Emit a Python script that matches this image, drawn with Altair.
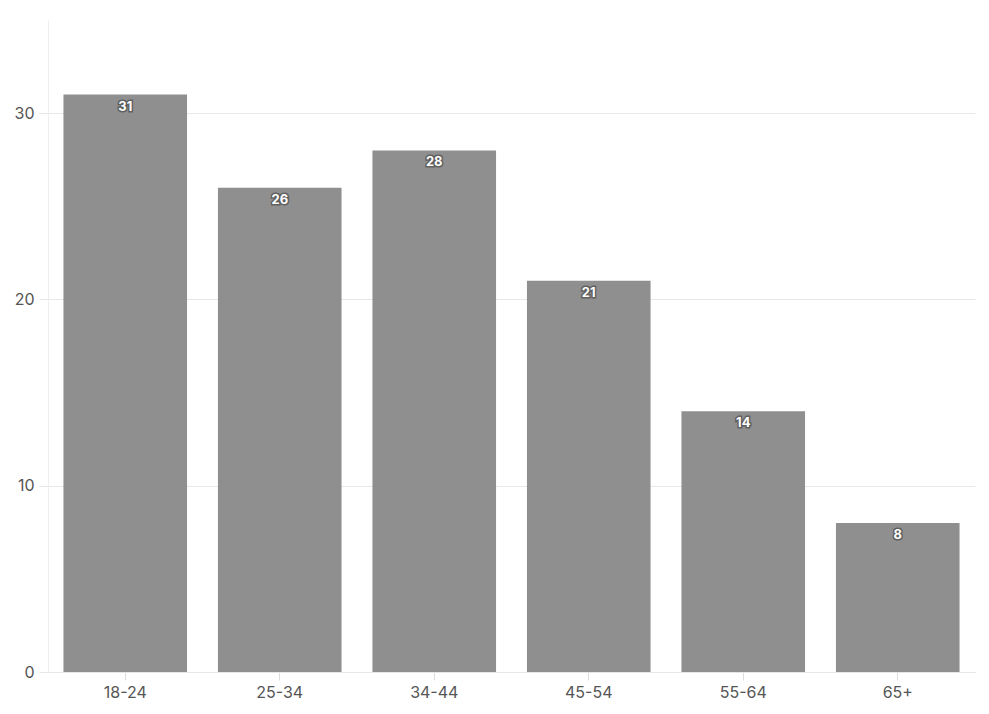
import altair as alt
import pandas as pd

categories = ["18-24", "25-34", "34-44", "45-54", "55-64", "65+"]
values = [31, 26, 28, 21, 14, 8]

df = pd.DataFrame({"age": categories, "value": values})

x = alt.X("age:N", sort=categories, title=None,
          scale=alt.Scale(paddingInner=0.2, paddingOuter=0.1),
          axis=alt.Axis(labelAngle=0, labelFontSize=16, labelColor="#555555",
                        labelFont="Inter", tickColor="#dddddd", tickSize=8,
                        domainColor="#e6e6e6", labelPadding=4, grid=False))
y = alt.Y("value:Q", title=None,
          scale=alt.Scale(domain=[0, 35], nice=False),
          axis=alt.Axis(values=[0, 10, 20, 30], labelFontSize=16, labelColor="#555555",
                        labelFont="Inter", tickColor="#e6e6e6", tickSize=9,
                        domainColor="#eeeeee", gridColor="#e8e8e8", labelPadding=5))

base = alt.Chart(df).encode(x=x, y=y)

bars = base.mark_bar(color="#8f8f8f")

halo = base.mark_text(font="Inter", fontSize=13, fontWeight="bold", baseline="middle",
                      dy=12, color="#555555", stroke="#555555", strokeWidth=3,
                      strokeOpacity=0.8).encode(text="value:Q")
labels = base.mark_text(font="Inter", fontSize=13, fontWeight="bold", baseline="middle",
                        dy=12, color="white").encode(text="value:Q")

chart = (bars + halo + labels).properties(
    width=927, height=652,
    autosize=alt.AutoSizeParams(type="none"),
    padding={"left": 40, "top": 12, "right": 6, "bottom": 34},
).configure_view(stroke=None)

chart.save("out.html", embed_options={"renderer": "svg", "actions": False})
